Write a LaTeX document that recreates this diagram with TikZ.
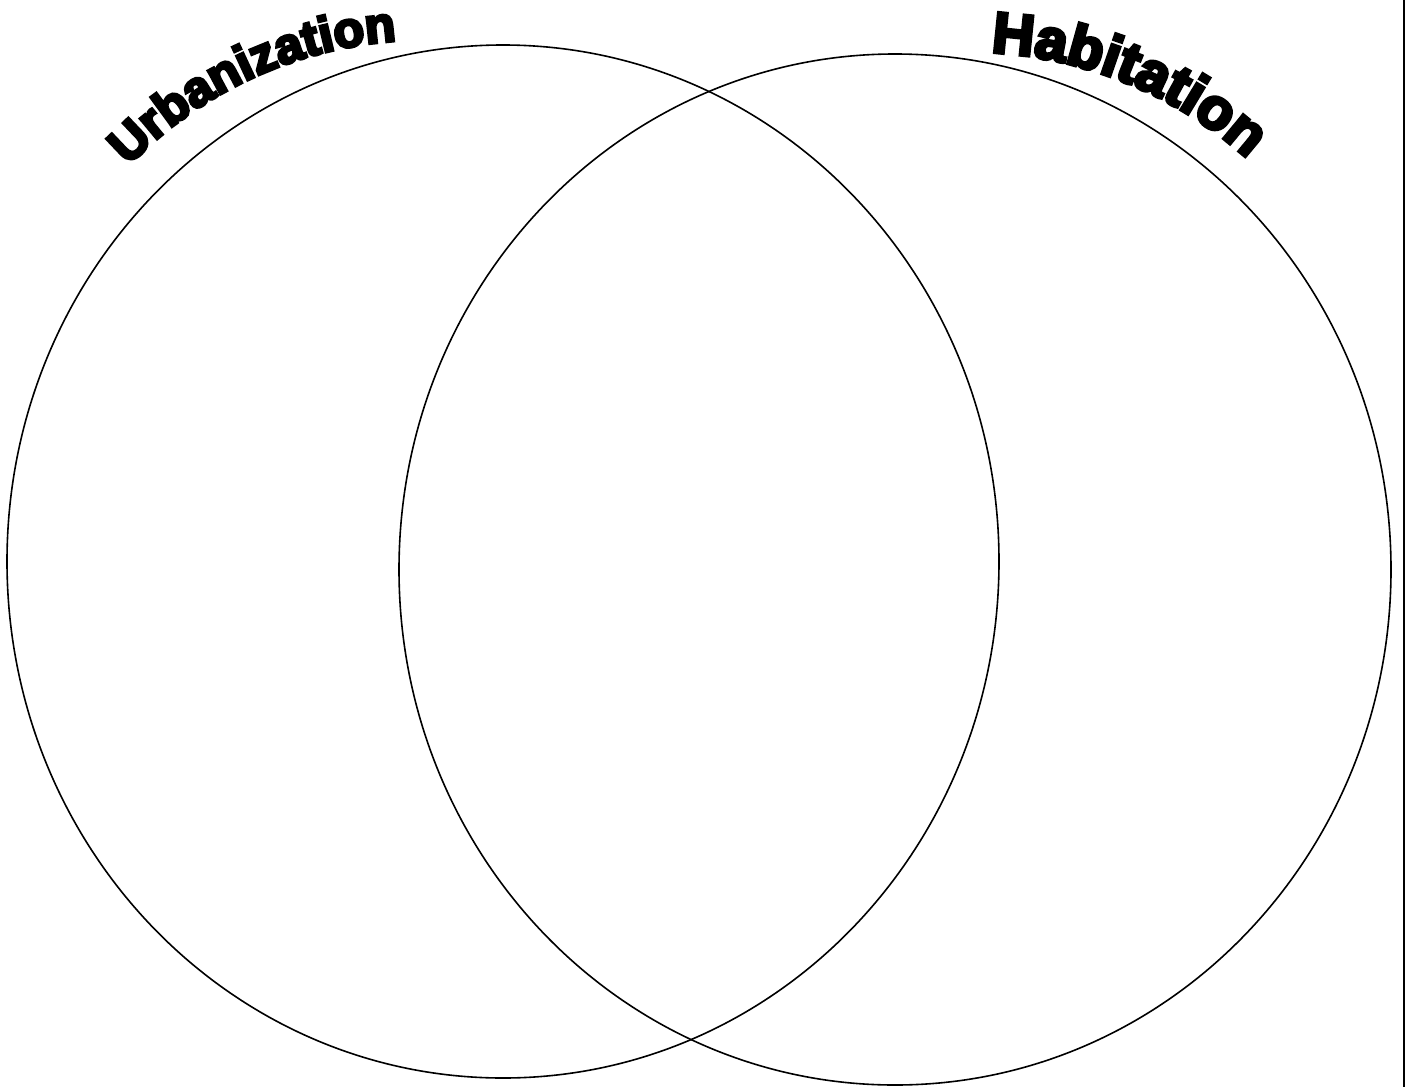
\documentclass[tikz,border=0pt]{standalone}
\usepackage{fontspec}
\usetikzlibrary{decorations.text,shapes.geometric}
\newfontfamily\heavyfont{Liberation Sans Bold}[FakeBold=6]
\begin{document}
\begin{tikzpicture}[x=1pt,y=-1pt,
  ring/.style={draw=black, line width=1.6pt, ellipse, inner sep=0pt, outer sep=0pt}]
\useasboundingbox (0,0) rectangle (1405,1087);
\node[ring, minimum width=992pt, minimum height=1033pt] (left) at (503,561.5) {};
\node[ring, minimum width=992pt, minimum height=1031pt] (right) at (895,569.5) {};
\draw[line width=1.6pt] (1404,0) -- (1404,1087);
\coordinate (uc) at (425,452);
\coordinate (hc) at (970,466);
\path[decorate, decoration={text along path, text align=center, text format delimiters={|}{|},
  text={|\heavyfont\fontsize{50}{50}\selectfont|Urbanization}}]
  (uc) ++(220:412) arc[start angle=220, end angle=270, radius=412];
\path[decorate, decoration={text along path, text align=center, text format delimiters={|}{|},
  text={|\heavyfont\fontsize{58}{58}\selectfont|Habitation}}]
  (hc) ++(268:414) arc[start angle=268, end angle=317, radius=414];
\end{tikzpicture}
\end{document}
